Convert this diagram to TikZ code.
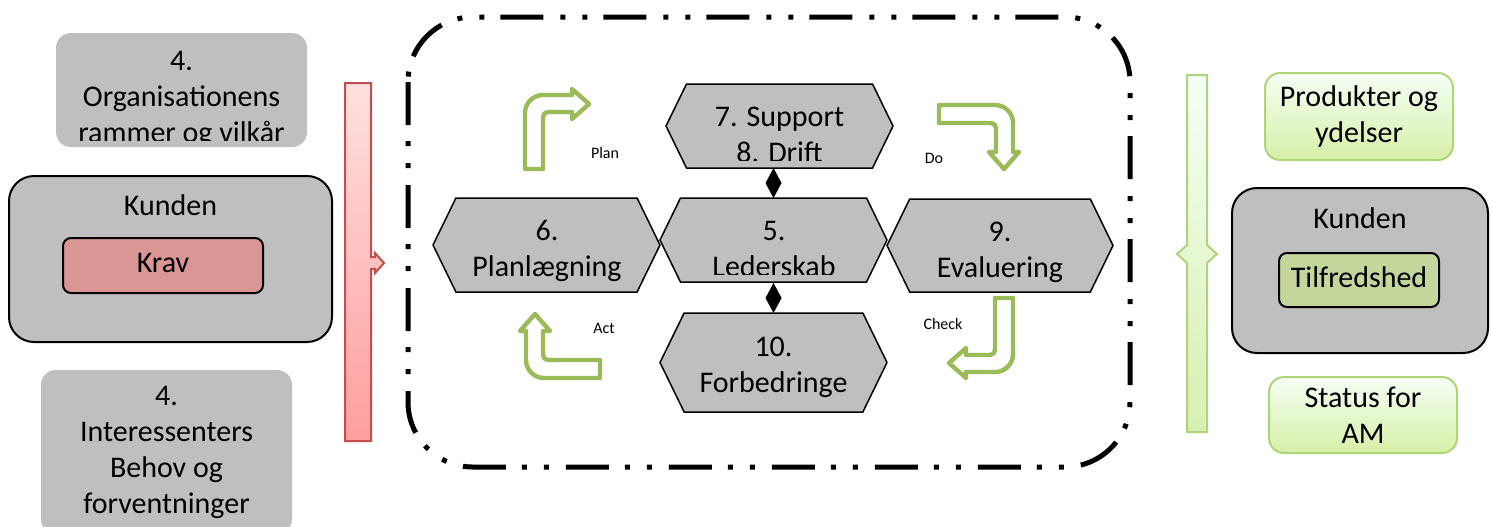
\documentclass[tikz,border=0pt]{standalone}
\usepackage{fontspec}
\setmainfont{Carlito}
\usetikzlibrary{shapes.symbols}
\usetikzlibrary{arrows.meta}

\definecolor{boxgray}{HTML}{BFBFBF}
\definecolor{kravred}{HTML}{D99694}
\definecolor{tilfgreen}{HTML}{C3D69B}
\definecolor{arrowgreen}{HTML}{9BBB59}
\definecolor{barred}{HTML}{C0504D}
\definecolor{bargreen}{HTML}{B0D47C}

\tikzset{
  bigtext/.style={font=\fontsize{15}{18}\selectfont, align=center, inner sep=0pt},
  graybox/.style={bigtext, fill=boxgray, rounded corners=7.5pt},
  kundebox/.style={fill=boxgray, draw=black, line width=1pt, rounded corners=12.5pt, inner sep=0pt},
  innerbox/.style={draw=black, line width=1pt, rounded corners=4pt, inner sep=0pt},
  greenbox/.style={bigtext, top color=green!4!white, bottom color={rgb,255:red,214;green,239;blue,167}, draw=bargreen, line width=1pt, rounded corners=7.5pt},
  hexbox/.style={shape=signal, signal to=east and west, signal pointer angle=128, fill=boxgray, draw=black, line width=0.75pt, inner sep=0pt, outer sep=0pt},
  arrowline/.style={draw=arrowgreen, line width=2.2pt, fill=white, line join=round},
  cyclelabel/.style={font=\fontsize{8}{9.6}\selectfont},
  pics/bentarr/.style={code={
    \draw[arrowline] (0,0) -- (0,56) arc[start angle=180, end angle=90, radius=18]
      -- (47,74) -- (47,80) -- (64,65) -- (47,50) -- (47,57) -- (23,57)
      arc[start angle=90, end angle=180, radius=5] -- (18,0) -- cycle;
  }}
}

\begin{document}
\begin{tikzpicture}[x=0.5pt, y=0.5pt]
  \useasboundingbox (0,0) rectangle (1492,-526);

  \fill[boxgray, rounded corners=7.5pt] (56,-33) rectangle (307,-147);
  \begin{scope}
    \clip (56,-33) rectangle (307,-140);
    \node[bigtext] (rammer) at (181.5,-99) {4.\\Organisationens\\rammer og vilkår};
  \end{scope}
  \node[kundebox, minimum width=161.5pt, minimum height=83pt] (kundeL) at (170.5,-259) {};
  \node[bigtext] (kundeLtxt) at (170.5,-205) {Kunden};
  \node[innerbox, fill=kravred, minimum width=100pt, minimum height=27.5pt] (krav) at (163,-265.5) {};
  \node[bigtext] (kravtxt) at (163,-263) {Krav};
  \node[graybox, minimum width=125.5pt, minimum height=82pt] (behov) at (166.5,-452) {4.\\Interessenters\\Behov og\\forventninger};

  \draw[barred, line width=1pt, top color=red!12!white, bottom color={rgb,255:red,255;green,158;blue,158}]
    (345,-83) -- (371,-83) -- (371,-257) -- (375,-257) -- (375,-253) -- (384,-263)
    -- (375,-273) -- (375,-269) -- (371,-269) -- (371,-441) -- (345,-441) -- cycle;

  \draw[line width=2.5pt, rounded corners=32.5pt,
        dash pattern=on 21.5pt off 8pt on 2.5pt off 8.5pt on 2.5pt off 8.5pt]
    (408,-17) rectangle (1130,-467);

  \node[hexbox, minimum width=113.5pt, minimum height=42pt] (support) at (779.5,-126) {};
  \node[hexbox, minimum width=113.5pt, minimum height=47pt] (planl) at (546.5,-245) {};
  \node[hexbox, minimum width=113.5pt, minimum height=42pt] (leder) at (773.5,-240) {};
  \node[hexbox, minimum width=113pt, minimum height=46.5pt] (evalu) at (1000,-245.5) {};
  \node[hexbox, minimum width=113.5pt, minimum height=49.5pt] (forbed) at (773.5,-362.5) {};

  \begin{scope}
    \clip (666,-84) rectangle (893,-160);
    \node[bigtext] (supporttxt) at (779.5,-135) {7. Support\\8. Drift};
  \end{scope}
  \node[bigtext] (planltxt) at (547,-251) {6.\\Planlægning};
  \begin{scope}
    \clip (660,-198) rectangle (887,-274);
    \node[bigtext] (ledertxt) at (774,-248.5) {5.\\Lederskab};
  \end{scope}
  \node[bigtext] (evalutxt) at (1000,-252.5) {9.\\Evaluering};
  \node[bigtext] (forbedtxt) at (773.5,-367.5) {10.\\Forbedringe};

  \draw[line width=0.75pt, -{Diamond[length=15pt, width=8pt]}] (leder.north |- support.south) -- (leder.north);
  \draw[line width=0.75pt, -{Diamond[length=15pt, width=8pt]}] (leder.south) -- (leder.south |- forbed.north);

  \pic at (525,-169) {bentarr};
  \pic[rotate=-90] at (939,-105) {bentarr};
  \pic[rotate=180] at (1013,-298) {bentarr};
  \pic[rotate=90] at (600,-378) {bentarr};
  \node[cyclelabel] (plan) at (605,-153) {Plan};
  \node[cyclelabel] (do) at (934,-158) {Do};
  \node[cyclelabel] (check) at (943,-324) {Check};
  \node[cyclelabel] (act) at (604,-328) {Act};

  \draw[bargreen, line width=1pt, top color=green!4!white, bottom color={rgb,255:red,216;green,239;blue,176}]
    (1187,-75) -- (1207,-75) -- (1207,-245) -- (1217,-254) -- (1207,-263) -- (1207,-432)
    -- (1187,-432) -- (1187,-263) -- (1177,-254) -- (1187,-245) -- cycle;

  \node[greenbox, minimum width=94pt, minimum height=43.5pt] (produkt) at (1359,-116.5) {Produkter og\\ydelser};
  \node[kundebox, minimum width=128pt, minimum height=82.5pt] (kundeR) at (1360,-270.5) {};
  \node[bigtext] (kundeRtxt) at (1360,-218) {Kunden};
  \node[innerbox, fill=tilfgreen, minimum width=80pt, minimum height=27pt] (tilfreds) at (1359,-280) {};
  \node[bigtext] (tilfredstxt) at (1359,-277) {Tilfredshed};
  \node[greenbox, minimum width=94pt, minimum height=38pt] (status) at (1363,-415) {Status for\\AM};
\end{tikzpicture}
\end{document}
